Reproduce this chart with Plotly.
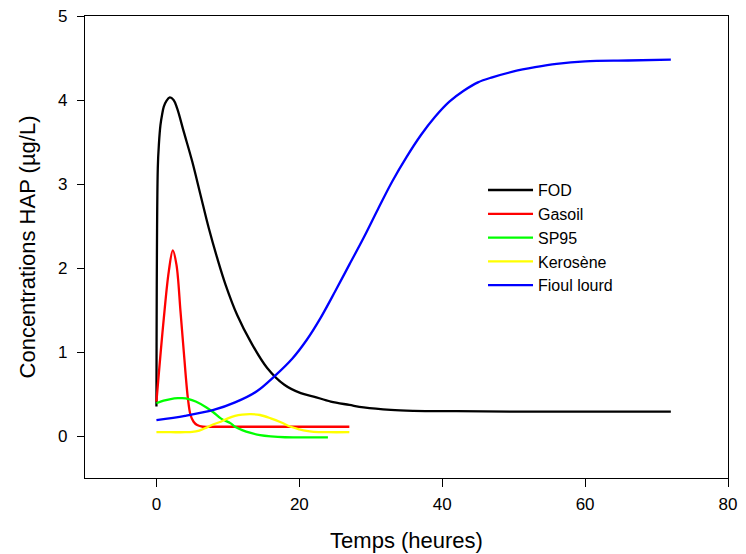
import plotly.graph_objects as go

# FOD
fod_t = [0, 0.19, 0.35, 0.56, 0.8, 1.03, 1.4, 1.87, 2.4, 2.9, 3.83, 5.0, 6.17, 7.34, 8.5,
         9.68, 11.3, 13.2, 15.5, 17.9, 20.2, 22, 24.4, 27, 29, 32.8, 36, 42, 50, 60, 72]
fod_c = [0.35, 3.19, 3.48, 3.70, 3.83, 3.92, 3.99, 4.03, 4.00, 3.90, 3.62, 3.27, 2.87, 2.47,
         2.12, 1.80, 1.44, 1.12, 0.81, 0.61, 0.51, 0.47, 0.41, 0.37, 0.34, 0.31, 0.30, 0.295,
         0.29, 0.29, 0.29]

# Gasoil
gas_t = [0, 1.03, 1.73, 2.29, 2.8, 3.37, 3.83, 4.4, 4.77, 5.2, 5.7, 6.5, 8, 12, 18, 27]
gas_c = [0.41, 1.40, 1.96, 2.21, 2.04, 1.48, 1.00, 0.45, 0.25, 0.17, 0.13, 0.11, 0.11, 0.11,
         0.11, 0.11]

# SP95
sp_t = [0, 1, 2, 3, 3.6, 4.5, 5.5, 7, 8, 9, 10.4, 11, 12, 13.2, 14.5, 16, 18, 20, 22, 24]
sp_c = [0.39, 0.42, 0.44, 0.45, 0.45, 0.44, 0.41, 0.34, 0.28, 0.21, 0.15, 0.11, 0.07, 0.036,
        0.01, -0.005, -0.015, -0.016, -0.016, -0.016]

# Kerosene
ker_t = [0, 2, 4, 5, 6, 7, 8, 9, 10, 11, 12, 13.2, 14.5, 16, 17.5, 18.8, 20, 21, 22, 24, 27]
ker_c = [0.045, 0.045, 0.045, 0.048, 0.065, 0.10, 0.14, 0.17, 0.21, 0.24, 0.255, 0.26, 0.25,
         0.21, 0.16, 0.11, 0.08, 0.06, 0.05, 0.045, 0.045]

# Fioul lourd
fio_t = [0, 4, 8, 11, 14, 16.5, 19, 21, 23, 25, 27, 29, 31, 33, 35, 37, 39, 41, 43, 45,
         47, 50, 53, 56, 60, 66, 72]
fio_c = [0.19, 0.24, 0.31, 0.40, 0.53, 0.71, 0.92, 1.14, 1.41, 1.72, 2.04, 2.36, 2.70, 3.03,
         3.32, 3.58, 3.80, 3.98, 4.11, 4.21, 4.27, 4.34, 4.39, 4.43, 4.46, 4.47, 4.48]

series = [
    ("FOD", fod_t, fod_c, "black"),
    ("Gasoil", gas_t, gas_c, "#ff0000"),
    ("SP95", sp_t, sp_c, "#00ff00"),
    ("Kerosène", ker_t, ker_c, "#ffff00"),
    ("Fioul lourd", fio_t, fio_c, "#0000ff"),
]

fig = go.Figure()
for name, t, c, col in series:
    fig.add_trace(go.Scatter(x=t, y=c, mode="lines", name=name,
                             line=dict(color=col, width=2.3, shape="spline", smoothing=1.0)))

axis_style = dict(showline=True, linecolor="black", linewidth=1.3, mirror=True,
                  ticks="outside", tickwidth=1.3, tickcolor="black", automargin=False,
                  showgrid=False, zeroline=False, tickfont=dict(size=17, color="black"))

fig.update_xaxes(range=[-10, 80], tick0=0, dtick=20, ticklen=8, ticklabelstandoff=2,
                 title=dict(text="Temps (heures)", font=dict(size=22, color="black"), standoff=20),
                 **axis_style)
fig.update_yaxes(range=[-0.5, 5], tick0=0, dtick=1, ticklen=7, ticklabelstandoff=6,
                 title=dict(text="Concentrations HAP (µg/L)", font=dict(size=22, color="black"), standoff=16),
                 **axis_style)

fig.update_layout(
    width=746, height=554,
    margin=dict(l=85, r=18, t=16, b=76),
    plot_bgcolor="white", paper_bgcolor="white",
    font=dict(family="Liberation Sans, Arial, sans-serif"),
    legend=dict(x=0.619, y=0.66, xanchor="left", yanchor="top", itemwidth=45,
                font=dict(size=16, color="black"), bgcolor="rgba(0,0,0,0)"),
)

fig.write_html("out.html", config={"displayModeBar": False},
               post_script="document.body.style.margin='0';")
